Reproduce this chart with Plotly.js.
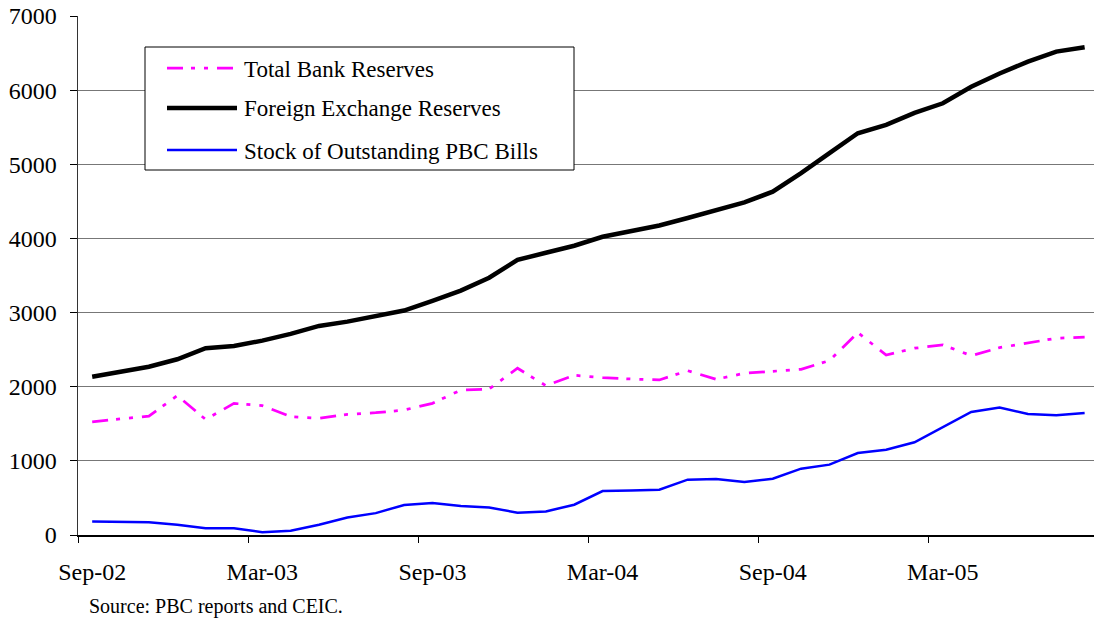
<!DOCTYPE html>
<html>
<head>
<meta charset="utf-8">
<script src="https://cdn.plot.ly/plotly-3.0.1.min.js"></script>
<style>
  html, body { margin: 0; padding: 0; background: #fff; }
  #chart { width: 1094px; height: 622px; }
</style>
</head>
<body>
<div id="chart"></div>
<script>
// Monthly categories Sep-02 .. Aug-05
const months = [
  "Sep-02","Oct-02","Nov-02","Dec-02","Jan-03","Feb-03",
  "Mar-03","Apr-03","May-03","Jun-03","Jul-03","Aug-03",
  "Sep-03","Oct-03","Nov-03","Dec-03","Jan-04","Feb-04",
  "Mar-04","Apr-04","May-04","Jun-04","Jul-04","Aug-04",
  "Sep-04","Oct-04","Nov-04","Dec-04","Jan-05","Feb-05",
  "Mar-05","Apr-05","May-05","Jun-05","Jul-05","Aug-05"
];

const totalBankReserves = [
  1527, 1565, 1604, 1880, 1559, 1775,
  1745, 1598, 1573, 1627, 1649, 1685,
  1776, 1955, 1969, 2249, 2014, 2154,
  2122, 2104, 2091, 2216, 2100, 2181,
  2205, 2235, 2352, 2730, 2428, 2519,
  2564, 2419, 2527, 2595, 2654, 2668
];

const foreignExchangeReserves = [
  2135, 2203, 2270, 2370, 2519, 2550,
  2622, 2712, 2820, 2878, 2955, 3027,
  3158, 3297, 3470, 3710, 3807, 3901,
  4022, 4100, 4175, 4275, 4375, 4485,
  4631, 4880, 5150, 5419, 5531, 5694,
  5823, 6045, 6225, 6385, 6520, 6579
];

const pbcBills = [
  182, 182, 173, 138, 92, 92,
  38, 57, 138, 236, 295, 405,
  430, 390, 372, 300, 318, 408,
  592, 601, 611, 746, 754, 714,
  759, 895, 949, 1106, 1151, 1250,
  1457, 1660, 1719, 1633, 1615, 1646
];

const seriesNames = [
  "Total Bank Reserves",
  "Foreign Exchange Reserves",
  "Stock of Outstanding PBC Bills"
];

const yTickVals = [0, 1000, 2000, 3000, 4000, 5000, 6000, 7000];
const sourceNote = "Source: PBC reports and CEIC.";

const FONT = '"Liberation Serif", "Times New Roman", serif';
const MAGENTA = '#FF00FF';
const BLUE = '#0000FF';
const BLACK = '#000000';
const DASH = '16px,8px,4px,9px,4px,9px';

const traces = [
  {
    x: months, y: totalBankReserves, name: seriesNames[0],
    type: 'scatter', mode: 'lines',
    line: { color: MAGENTA, width: 2.75, dash: DASH },
    showlegend: false, hoverinfo: 'x+y+name'
  },
  {
    x: months, y: foreignExchangeReserves, name: seriesNames[1],
    type: 'scatter', mode: 'lines',
    line: { color: BLACK, width: 4.5 },
    showlegend: false, hoverinfo: 'x+y+name'
  },
  {
    x: months, y: pbcBills, name: seriesNames[2],
    type: 'scatter', mode: 'lines',
    line: { color: BLUE, width: 2.5 },
    showlegend: false, hoverinfo: 'x+y+name'
  }
];

// plot-area geometry helpers (paper coords)
const W = 1016, H = 519, L = 78, T = 16;
const px = v => (v - L) / W;
const py = v => (T + H - v) / H;

const legendRows = [68, 108, 150];
const legendStyles = [
  { color: MAGENTA, width: 2.75, dash: DASH },
  { color: BLACK, width: 4.5 },
  { color: BLUE, width: 2.5 }
];

const shapes = [
  {
    type: 'rect', xref: 'paper', yref: 'paper',
    x0: px(145), x1: px(574), y0: py(170), y1: py(47),
    line: { color: '#000', width: 1 }, fillcolor: '#ffffff', layer: 'above'
  }
];
legendRows.forEach((r, i) => {
  shapes.push({
    type: 'line', xref: 'paper', yref: 'paper',
    x0: px(167), x1: px(237), y0: py(r), y1: py(r),
    line: legendStyles[i], layer: 'above'
  });
});

const annotations = legendRows.map((r, i) => ({
  xref: 'paper', yref: 'paper', x: px(242), y: py(r + 1),
  xanchor: 'left', yanchor: 'middle', showarrow: false,
  text: seriesNames[i], font: { family: FONT, size: 23, color: '#000' }
}));
annotations.push({
  xref: 'paper', yref: 'paper', x: px(87), y: py(606),
  xanchor: 'left', yanchor: 'middle', showarrow: false,
  text: sourceNote, font: { family: FONT, size: 20, color: '#000' }
});

const layout = {
  width: 1094, height: 622,
  margin: { l: L, r: 0, t: T, b: 622 - T - H, pad: 0 },
  paper_bgcolor: '#ffffff', plot_bgcolor: '#ffffff',
  font: { family: FONT, color: '#000' },
  showlegend: false,
  xaxis: {
    type: 'category',
    range: [-0.5, 35.33],
    tickmode: 'linear', tick0: 0, dtick: 6,
    tickson: 'boundaries',
    tickangle: 0,
    ticks: 'outside', ticklen: 6, tickwidth: 1, tickcolor: '#000',
    showgrid: false, zeroline: false,
    showline: true, linecolor: '#000', linewidth: 1.5,
    tickfont: { family: FONT, size: 24, color: '#000' },
    ticklabelstandoff: 15,
    fixedrange: true
  },
  yaxis: {
    range: [0, 7000],
    tickmode: 'array', tickvals: yTickVals,
    ticktext: yTickVals.map(String),
    ticks: 'outside', ticklen: 7, tickwidth: 1, tickcolor: '#000',
    showgrid: true, gridcolor: '#777777', gridwidth: 1.2,
    zeroline: false,
    showline: true, linecolor: '#333', linewidth: 1.5,
    tickfont: { family: FONT, size: 24, color: '#000' },
    ticklabelstandoff: 8,
    fixedrange: true
  },
  shapes: shapes,
  annotations: annotations
};

Plotly.newPlot('chart', traces, layout, { displayModeBar: false, staticPlot: true });
</script>
</body>
</html>
